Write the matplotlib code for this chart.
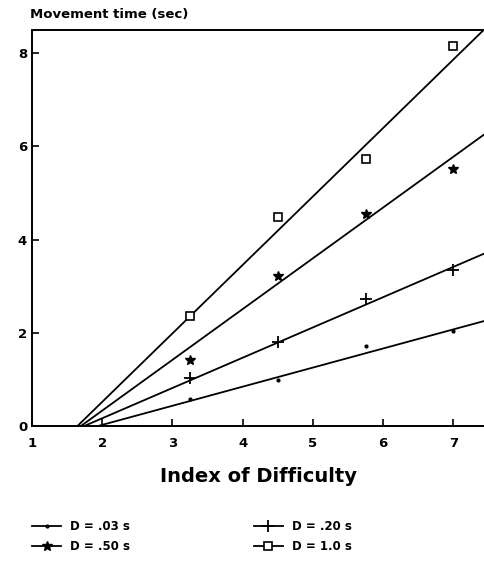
import numpy as np
import matplotlib as mpl
mpl.use('Agg')
import matplotlib.pyplot as plt
from matplotlib.lines import Line2D

# index of difficulty where movement time was measured
ids = [3.25, 4.5, 5.75, 7.0]

# movement time (sec) for each duration D
mt_03 = [0.58, 0.99, 1.72, 2.03]
mt_20 = [1.03, 1.81, 2.72, 3.34]
mt_50 = [1.42, 3.21, 4.55, 5.52]
mt_10 = [2.35, 4.48, 5.73, 8.15]

labels = ['D = .03 s', 'D = .20 s', 'D = .50 s', 'D = 1.0 s']
# fitted regression lines: x intercept and slope
fit_x0 = [1.95, 1.75, 1.70, 1.65]
fit_slope = [0.41, 0.65, 1.09, 1.47]

plt.rcParams['font.family'] = ['DejaVu Sans']
plt.rcParams['font.weight'] = 'bold'

fig = plt.figure(figsize=(4.85, 5.64), dpi=100)
ax = fig.add_axes([0.066, 0.245, 0.934, 0.702])

xmax = 7.45
styles = [dict(marker='.', ms=4, mfc='black'),
          dict(marker='+', ms=8, mew=1.3),
          dict(marker='*', ms=7, mfc='black'),
          dict(marker='s', ms=6, mfc='white', mew=1.2)]

series = [mt_03, mt_20, mt_50, mt_10]
handles = []
for vals, x0, b, st, lab in zip(series, fit_x0, fit_slope, styles, labels):
    xs = np.array([x0, xmax])
    ax.plot(xs, b * (xs - x0), color='black', lw=1.3)
    ax.plot(ids, vals, ls='none', color='black', **st)
    handles.append(Line2D([], [], color='black', lw=1.3, label=lab, **st))

ax.set_xlim(1, xmax)
ax.set_ylim(0, 8.5)
ax.set_xticks(range(1, 8))
ax.set_yticks([0, 2, 4, 6, 8])
ax.tick_params(direction='in', length=5, width=1.2, labelsize=9.5)
ax.tick_params(axis='x', pad=8)
for sp in ['left', 'bottom', 'top']:
    ax.spines[sp].set_linewidth(1.4)
ax.spines['right'].set_visible(False)

ax.set_xlabel('Index of Difficulty', fontsize=14, fontweight='bold', labelpad=12)
fig.text(0.062, 0.975, 'Movement time (sec)', fontsize=9.5, fontweight='bold',
         va='center', ha='left')

# column-wise fill: .03/.50 left, .20/1.0 right
order = [0, 2, 1, 3]
fig.legend(handles=[handles[i] for i in order], ncol=2, loc='lower left',
           bbox_to_anchor=(0.045, 0.0), frameon=False, fontsize=8.5,
           handlelength=2.4, columnspacing=10.5, labelspacing=0.6)

fig.savefig('out.png', dpi=100)
